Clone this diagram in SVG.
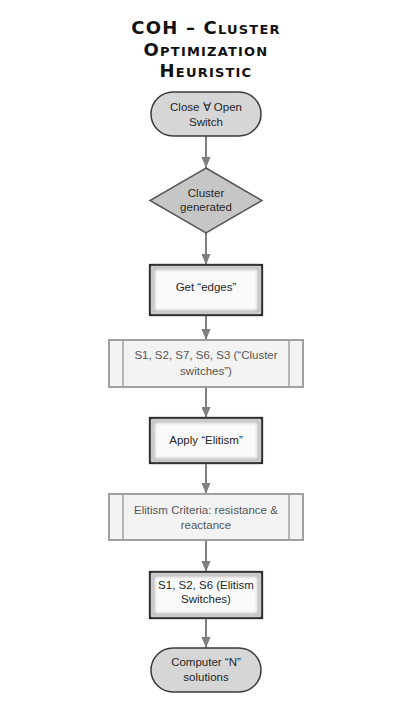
<svg xmlns="http://www.w3.org/2000/svg" width="406" height="702" viewBox="0 0 406 702">
<style>
.title{font-family:"DejaVu Sans",sans-serif;font-weight:bold;font-size:18px;font-variant:small-caps;letter-spacing:1.2px;fill:#111;text-anchor:middle}
.t{font-family:"Liberation Sans",Arial,sans-serif;font-size:11.5px;text-anchor:middle}
.dark{fill:#262626}
.light{fill:#555555}
.term{fill:#d6d6d6;stroke:#3a3a3a;stroke-width:1.5}
.dec{fill:#c6c6c6;stroke:#555;stroke-width:1.5}
.proc{fill:#fafafa;stroke:#262626;stroke-width:2.2}
.glow{fill:none;stroke:#b0b0b0;stroke-width:3}
.pre{fill:#f3f3f3;stroke:#a0a0a0;stroke-width:2}
.preline{stroke:#a0a0a0;stroke-width:1.5}
.conn{stroke:#7f7f7f;stroke-width:2;fill:none}
</style>
<defs>
<marker id="ah" markerWidth="12" markerHeight="9" refX="11" refY="4.5" orient="auto" markerUnits="userSpaceOnUse">
<path d="M0,0 L11,4.5 L0,9 Z" fill="#7f7f7f"/>
</marker>
<filter id="sh" x="-20%" y="-30%" width="140%" height="160%">
<feGaussianBlur stdDeviation="1.6"/>
</filter>
</defs>
<rect width="406" height="702" fill="#ffffff"/>
<g id="title">
<text class="title" x="206" y="34">COH – Cluster</text>
<text class="title" x="206" y="56">Optimization</text>
<text class="title" x="206" y="77">Heuristic</text>
</g>
<g id="connectors">
<line class="conn" x1="206" y1="136" x2="206" y2="168" marker-end="url(#ah)"/>
<line class="conn" x1="206" y1="233" x2="206" y2="265" marker-end="url(#ah)"/>
<line class="conn" x1="206" y1="315" x2="206" y2="340" marker-end="url(#ah)"/>
<line class="conn" x1="206" y1="387" x2="206" y2="418" marker-end="url(#ah)"/>
<line class="conn" x1="206" y1="463" x2="206" y2="494" marker-end="url(#ah)"/>
<line class="conn" x1="206" y1="540" x2="206" y2="572" marker-end="url(#ah)"/>
<line class="conn" x1="206" y1="618" x2="206" y2="648" marker-end="url(#ah)"/>
</g>
<g id="start">
<rect class="term" x="151" y="92" width="110" height="44" rx="22"/>
<text class="t dark" x="206" y="111">Close ∀ Open</text>
<text class="t dark" x="206" y="126">Switch</text>
</g>
<g id="cluster-generated">
<polygon class="dec" points="206,168 262,200.5 206,233 150,200.5"/>
<text class="t dark" x="206" y="197">Cluster</text>
<text class="t dark" x="206" y="211">generated</text>
</g>
<g id="get-edges">
<rect x="150" y="265" width="112" height="50" fill="#9a9a9a" filter="url(#sh)"/>
<rect class="proc" x="150" y="265" width="112" height="50"/>
<rect class="glow" x="153" y="268" width="106" height="44" filter="url(#sh)"/>
<text class="t dark" x="206" y="291">Get “edges”</text>
</g>
<g id="cluster-switches">
<rect class="pre" x="109" y="340" width="194" height="47"/>
<line class="preline" x1="123" y1="341" x2="123" y2="386"/>
<line class="preline" x1="289" y1="341" x2="289" y2="386"/>
<text class="t light" x="206" y="359">S1, S2, S7, S6, S3 (“Cluster</text>
<text class="t light" x="206" y="375">switches”)</text>
</g>
<g id="apply-elitism">
<rect x="150" y="418" width="112" height="45" fill="#9a9a9a" filter="url(#sh)"/>
<rect class="proc" x="150" y="418" width="112" height="45"/>
<rect class="glow" x="153" y="421" width="106" height="39" filter="url(#sh)"/>
<text class="t dark" x="206" y="444">Apply “Elitism”</text>
</g>
<g id="elitism-criteria">
<rect class="pre" x="109" y="494" width="194" height="46"/>
<line class="preline" x1="123" y1="495" x2="123" y2="539"/>
<line class="preline" x1="289" y1="495" x2="289" y2="539"/>
<text class="t light" x="206" y="514">Elitism Criteria: resistance &amp;</text>
<text class="t light" x="206" y="529">reactance</text>
</g>
<g id="elitism-switches">
<rect x="150" y="572" width="112" height="46" fill="#9a9a9a" filter="url(#sh)"/>
<rect class="proc" x="150" y="572" width="112" height="46"/>
<rect class="glow" x="153" y="575" width="106" height="40" filter="url(#sh)"/>
<text class="t dark" x="206" y="589">S1, S2, S6 (Elitism</text>
<text class="t dark" x="206" y="603">Switches)</text>
</g>
<g id="end">
<rect class="term" x="151" y="648" width="110" height="44" rx="22"/>
<text class="t dark" x="206" y="666">Computer “N”</text>
<text class="t dark" x="206" y="681">solutions</text>
</g>
</svg>
